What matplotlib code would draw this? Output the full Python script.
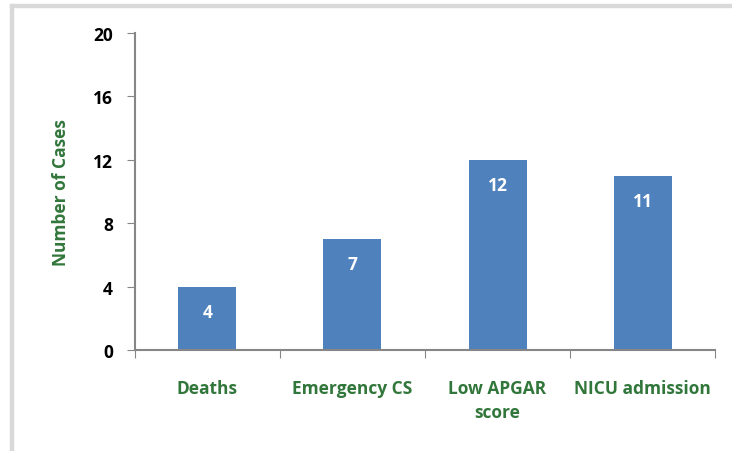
import matplotlib
matplotlib.use("Agg")
import matplotlib.pyplot as plt
from matplotlib.patches import Rectangle

categories = ["Deaths", "Emergency CS", "Low APGAR\nscore", "NICU admission"]
cases = [4, 7, 12, 11]
y_ticks = [0, 4, 8, 12, 16, 20]

bar_color = "#4F81BD"
green = "#31763A"
axis_gray = "#868686"
fs = 12.5

plt.rcParams["font.family"] = ["Open Sans", "DejaVu Sans"]

fig = plt.figure(figsize=(7.32, 4.52), dpi=100)
ax = fig.add_axes([0.1844, 0.2235, 0.7924, 0.7013])

x = list(range(len(categories)))
bars = ax.bar(x, cases, width=0.4, color=bar_color, zorder=2)
for xi, v in zip(x, cases):
    ax.text(xi, v - 1.6, str(v), ha="center", va="center", color="white",
            fontsize=fs, fontweight="bold")

ax.set_xlim(-0.5, len(categories) - 0.5)
ax.set_ylim(0, 20)
ax.set_yticks(y_ticks)
ax.set_yticklabels([str(t) for t in y_ticks], fontsize=fs, fontweight="bold")
ax.set_xticks([i - 0.5 for i in range(len(categories) + 1)])
ax.set_xticklabels([])
ax.tick_params(axis="x", length=6, color=axis_gray, direction="out")
ax.tick_params(axis="y", length=6, color=axis_gray, direction="out", pad=10)
for xi, lab in zip(x, categories):
    ax.text(xi, -1.8, lab, ha="center", va="top", color=green, fontsize=fs,
            fontweight="bold", linespacing=1.45)

for side in ["top", "right"]:
    ax.spines[side].set_visible(False)
for side in ["left", "bottom"]:
    ax.spines[side].set_color(axis_gray)
    ax.spines[side].set_linewidth(1.5)

ax.set_ylabel("Number of Cases", color=green, fontsize=fs, fontweight="bold")
ax.yaxis.set_label_coords(-0.112, 0.5)

# light frame along top and left edge
fig.patches.append(Rectangle((10 / 732, 0), 3 / 732, 1 - 5 / 452, transform=fig.transFigure,
                             color="#D9D9D9", zorder=0))
fig.patches.append(Rectangle((10 / 732, 1 - 8 / 452), 1, 3 / 452, transform=fig.transFigure,
                             color="#D9D9D9", zorder=0))

fig.savefig("out.png", dpi=100)
